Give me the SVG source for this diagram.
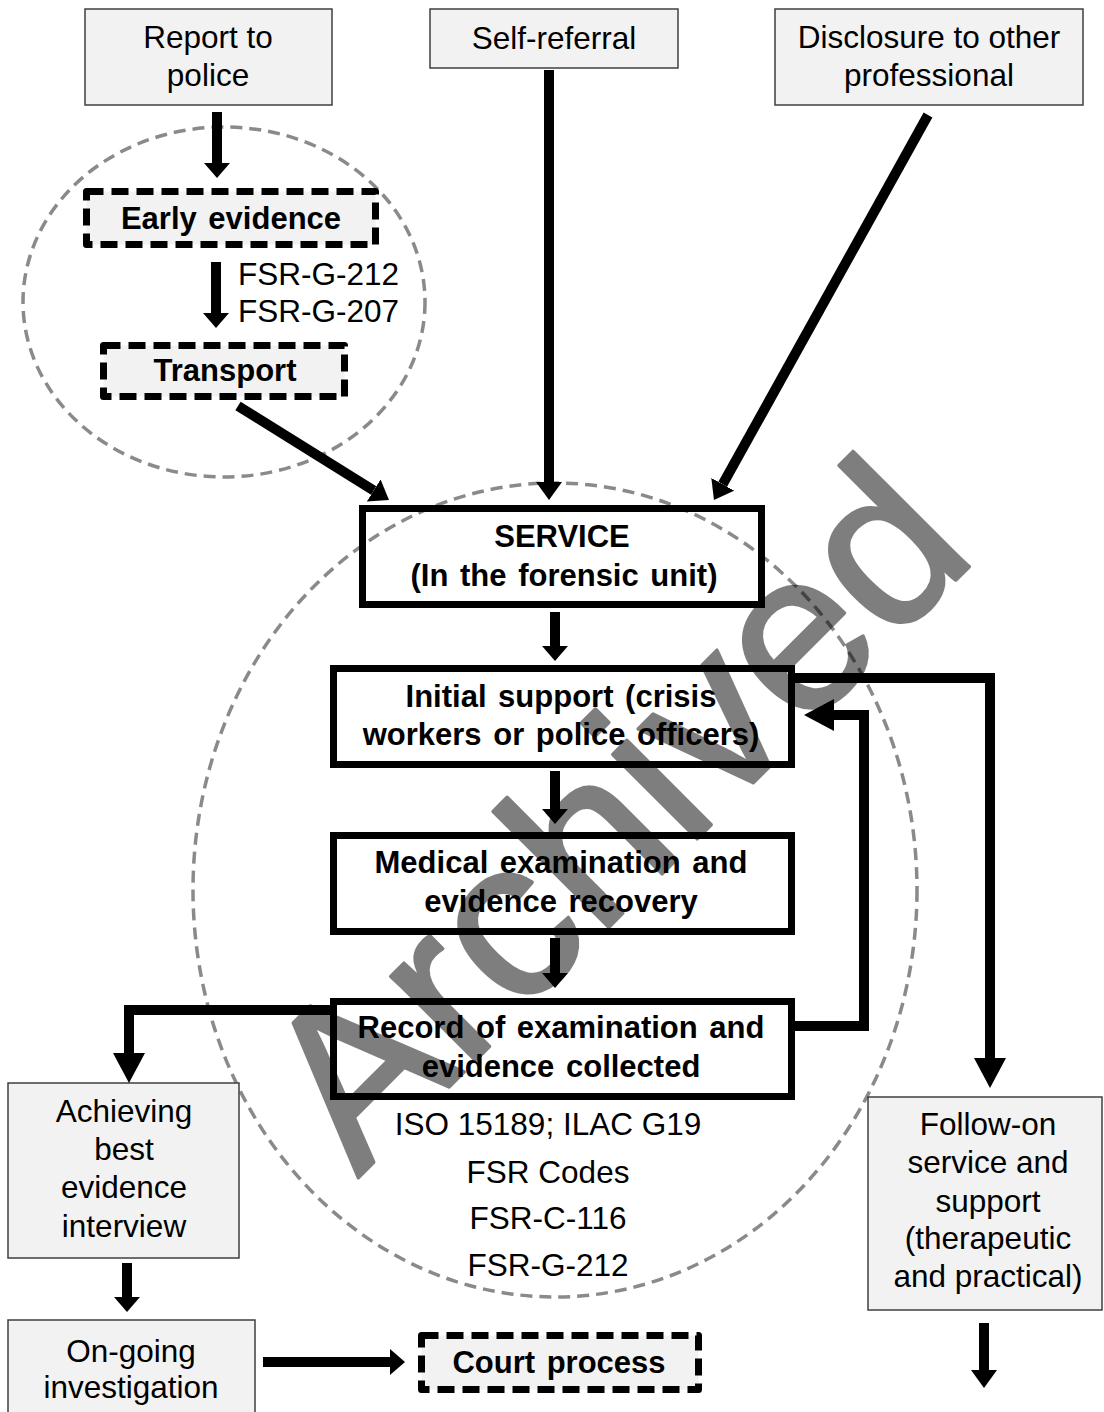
<svg xmlns="http://www.w3.org/2000/svg" width="1104" height="1412" viewBox="0 0 1104 1412">
  <style>
    text { font-family: "Liberation Sans", Arial, sans-serif; fill: #000; }
    .t { font-size: 31.5px; text-anchor: middle; }
    .tl { font-size: 31.5px; text-anchor: start; }
    .b { font-size: 31px; font-weight: bold; text-anchor: middle; word-spacing: 3px; }
    .grey { fill: #f2f2f2; stroke: #3f3f3f; stroke-width: 1.5; }
    .solid { fill: none; stroke: #000; stroke-width: 7; }
    .dash { fill: #f2f2f2; stroke: #000; stroke-width: 7; stroke-dasharray: 17 8; stroke-linejoin: round; }
    .zone { fill: none; stroke: #8a8a8a; stroke-width: 3.5; stroke-dasharray: 12 7; }
    .wire { fill: none; stroke: #000; stroke-width: 10; }
    .mark { font-size: 226px; fill: #000; stroke: #000; stroke-width: 3.5; stroke-linejoin: round; }
  </style>
  <defs>
    <marker id="hs" markerUnits="userSpaceOnUse" markerWidth="16" markerHeight="26" refX="0" refY="13" orient="auto">
      <path d="M0,0 L15,13 L0,26 z" fill="#000"/>
    </marker>
    <marker id="hm" markerUnits="userSpaceOnUse" markerWidth="19" markerHeight="26" refX="0" refY="13" orient="auto">
      <path d="M0,0 L18,13 L0,26 z" fill="#000"/>
    </marker>
    <marker id="hl" markerUnits="userSpaceOnUse" markerWidth="31" markerHeight="36" refX="0" refY="18" orient="auto">
      <path d="M0,2 L30,18 L0,34 z" fill="#000"/>
    </marker>
  </defs>

  <!-- dashed grouping zones -->
  <g id="zones">
    <ellipse class="zone" cx="224" cy="302" rx="201" ry="175"/>
    <ellipse class="zone" cx="555" cy="890" rx="362" ry="407"/>
  </g>

  <!-- entry routes -->
  <g id="report">
    <rect class="grey" x="85" y="9" width="247" height="96"/>
    <text class="t" x="208" y="48">Report to</text>
    <text class="t" x="208" y="86">police</text>
  </g>
  <g id="self-referral">
    <rect class="grey" x="430" y="9" width="248" height="59"/>
    <text class="t" x="554" y="49">Self-referral</text>
  </g>
  <g id="disclosure">
    <rect class="grey" x="775" y="9" width="308" height="96"/>
    <text class="t" x="929" y="48">Disclosure to other</text>
    <text class="t" x="929" y="86">professional</text>
  </g>

  <!-- police-side steps -->
  <g id="early-evidence">
    <rect class="dash" x="86.5" y="191.5" width="289" height="53"/>
    <text class="b" x="231" y="229">Early evidence</text>
  </g>
  <g id="early-standards">
    <text class="tl" x="238" y="285">FSR-G-212</text>
    <text class="tl" x="238" y="322">FSR-G-207</text>
  </g>
  <g id="transport">
    <rect class="dash" x="103.5" y="345.5" width="241" height="51"/>
    <text class="b" x="225" y="381">Transport</text>
  </g>

  <!-- forensic unit -->
  <g id="service">
    <rect class="solid" x="362.5" y="508.5" width="399" height="96"/>
    <text class="b" x="562" y="547">SERVICE</text>
    <text class="b" x="564" y="586">(In the forensic unit)</text>
  </g>
  <g id="initial-support">
    <rect class="solid" x="333.5" y="668.5" width="458" height="96"/>
    <text class="b" x="561" y="707">Initial support (crisis</text>
    <text class="b" x="561" y="745">workers or police officers)</text>
  </g>
  <g id="medical">
    <rect class="solid" x="333.5" y="835.5" width="458" height="96"/>
    <text class="b" x="561" y="873">Medical examination and</text>
    <text class="b" x="561" y="912">evidence recovery</text>
  </g>
  <g id="record">
    <rect class="solid" x="333.5" y="1001.5" width="458" height="95"/>
    <text class="b" x="561" y="1038">Record of examination and</text>
    <text class="b" x="561" y="1077">evidence collected</text>
  </g>
  <g id="record-standards">
    <text class="t" x="548" y="1135">ISO 15189; ILAC G19</text>
    <text class="t" x="548" y="1183">FSR Codes</text>
    <text class="t" x="548" y="1229">FSR-C-116</text>
    <text class="t" x="548" y="1276">FSR-G-212</text>
  </g>

  <!-- onward routes -->
  <g id="abe-interview">
    <rect class="grey" x="8" y="1083" width="231" height="175"/>
    <text class="t" x="124" y="1122">Achieving</text>
    <text class="t" x="124" y="1160">best</text>
    <text class="t" x="124" y="1198">evidence</text>
    <text class="t" x="124" y="1237">interview</text>
  </g>
  <g id="investigation">
    <rect class="grey" x="8" y="1320" width="247" height="100"/>
    <text class="t" x="131" y="1362">On-going</text>
    <text class="t" x="131" y="1398">investigation</text>
  </g>
  <g id="court">
    <rect class="dash" x="421.5" y="1335.5" width="277" height="54"/>
    <text class="b" x="559" y="1373">Court process</text>
  </g>
  <g id="follow-on">
    <rect class="grey" x="868" y="1097" width="234" height="213"/>
    <text class="t" x="988" y="1135">Follow-on</text>
    <text class="t" x="988" y="1173">service and</text>
    <text class="t" x="988" y="1212">support</text>
    <text class="t" x="988" y="1249">(therapeutic</text>
    <text class="t" x="988" y="1287">and practical)</text>
  </g>

  <!-- connectors -->
  <g id="connectors">
    <path class="wire" d="M217,112 V163" marker-end="url(#hs)"/>
    <path class="wire" d="M216,262 V313" marker-end="url(#hs)"/>
    <path class="wire" d="M238,406 L373.7,490.5" marker-end="url(#hm)"/>
    <path class="wire" d="M549,70 V482" marker-end="url(#hm)"/>
    <path class="wire" d="M928,115 L722.7,484.3" marker-end="url(#hm)"/>
    <path class="wire" stroke-width="11" d="M555,612 V646" marker-end="url(#hs)"/>
    <path class="wire" stroke-width="11" d="M555,771 V809" marker-end="url(#hs)"/>
    <path class="wire" stroke-width="11" d="M555,938 V973" marker-end="url(#hs)"/>
    <path class="wire" d="M330,1010 H129 V1053" marker-end="url(#hl)"/>
    <path class="wire" d="M795,678 H990 V1058" marker-end="url(#hl)"/>
    <path class="wire" stroke-width="9" d="M795,1026 H864 V715 H834" marker-end="url(#hl)"/>
    <path class="wire" d="M127,1263 V1297" marker-end="url(#hs)"/>
    <path class="wire" d="M263,1362 H390" marker-end="url(#hs)"/>
    <path class="wire" d="M984,1323 V1370" marker-end="url(#hm)"/>
  </g>

  <!-- archive stamp, half-transparent over the chart -->
  <g id="stamp" opacity="0.5">
    <text class="mark" transform="translate(358,1178) rotate(-45)" x="0" y="0">Archived</text>
  </g>
</svg>
